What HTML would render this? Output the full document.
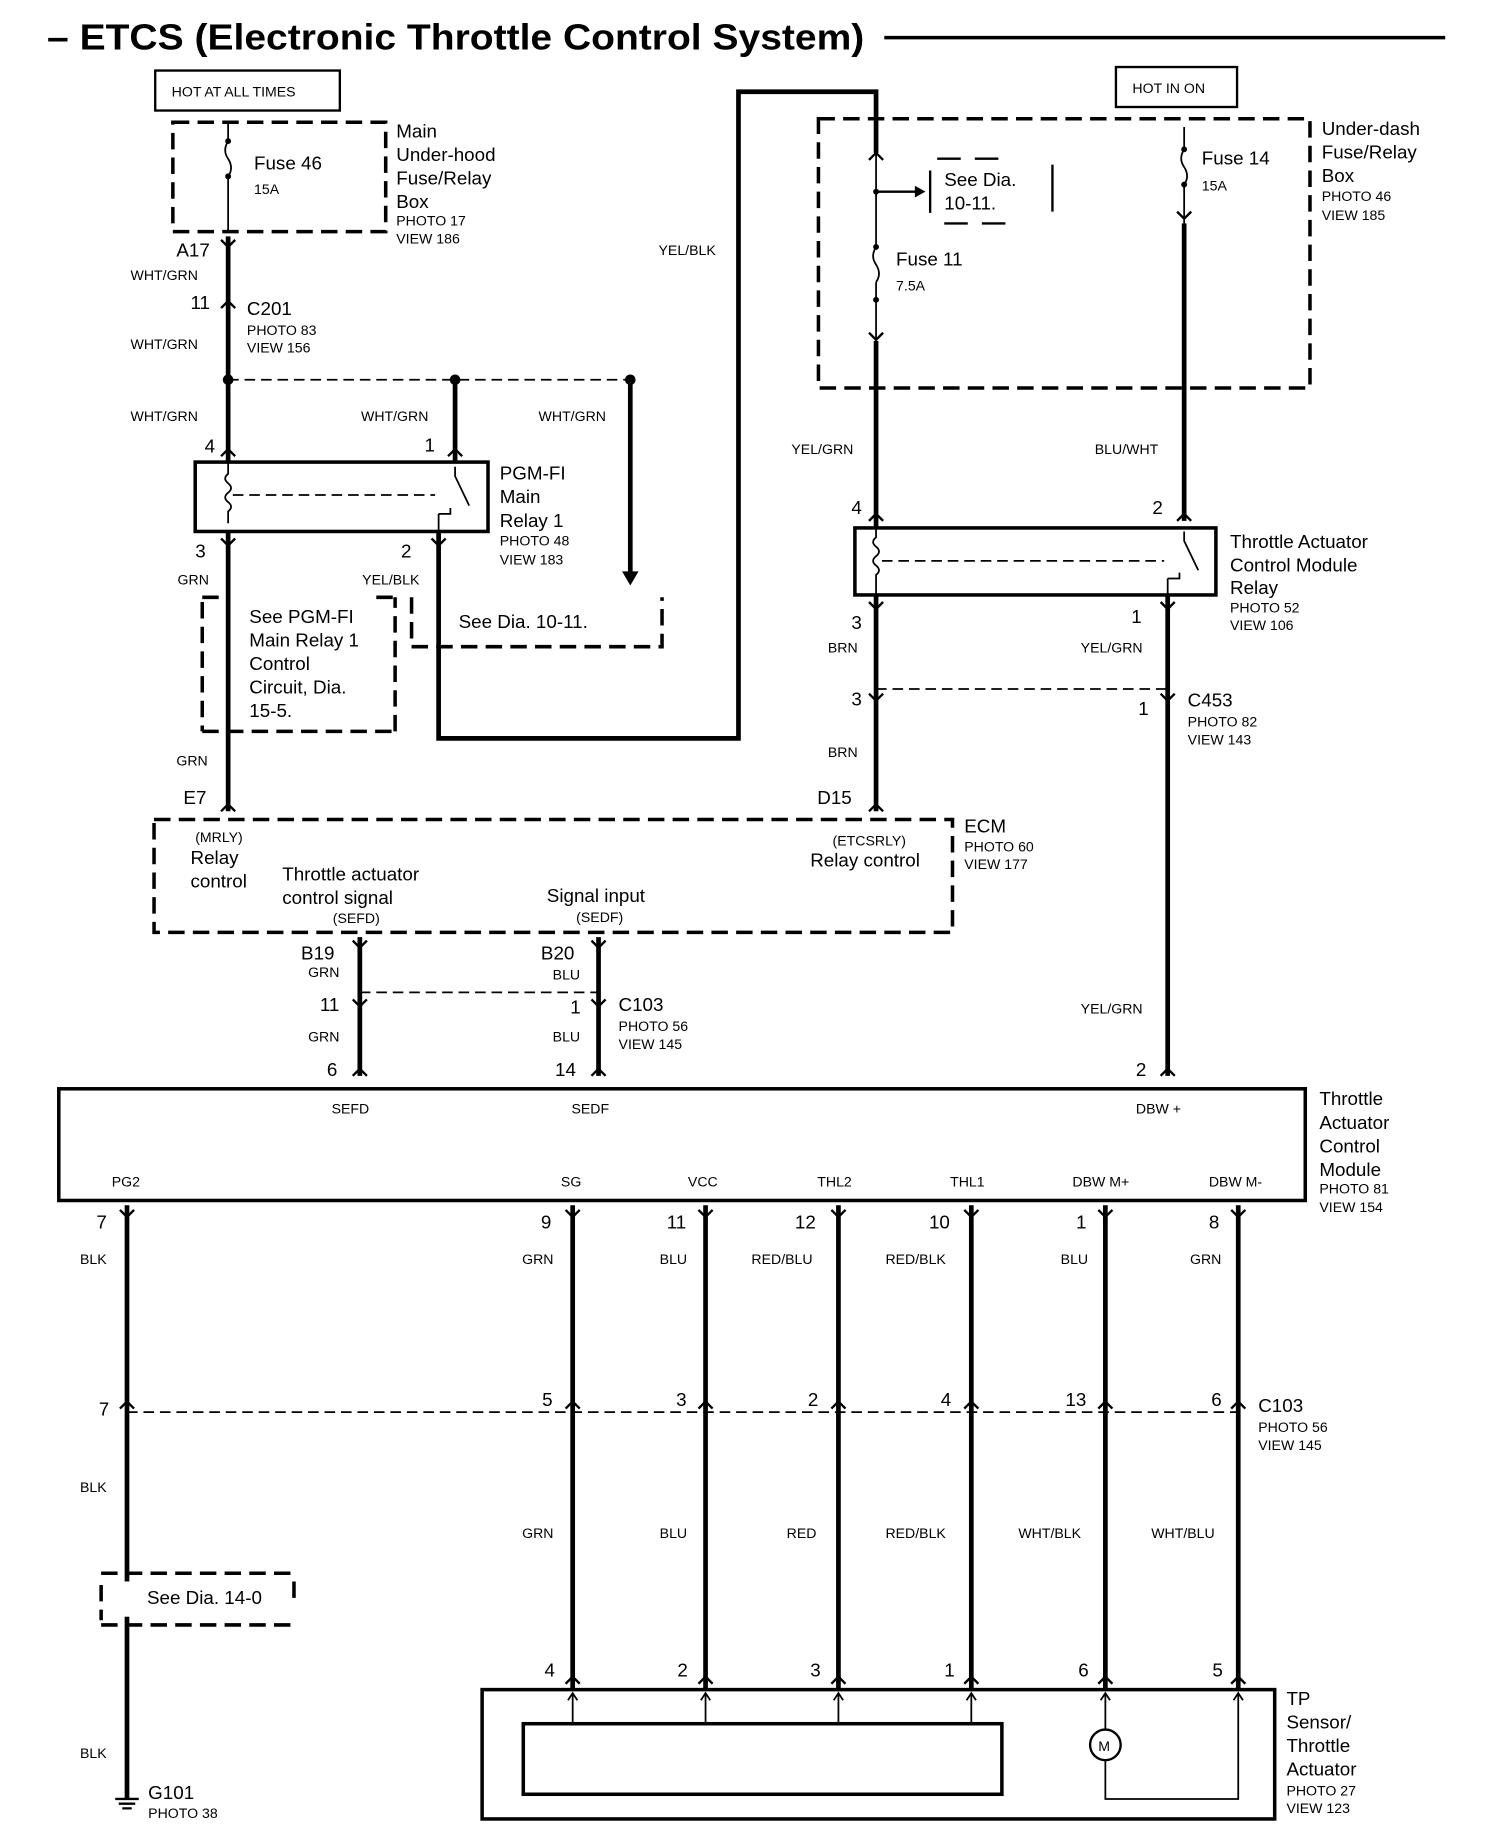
<!DOCTYPE html>
<html><head><meta charset="utf-8"><style>
html,body{margin:0;padding:0;background:#fff}
svg{display:block}
text{font-family:"Liberation Sans",sans-serif;fill:#000}
.b{font-size:16px}.s{font-size:12px}.t{font-size:31px;font-weight:bold}
.w{stroke:#000;stroke-width:4;fill:none}
.n{stroke:#000;stroke-width:1.5;fill:none}
.d{stroke:#000;stroke-width:3;fill:none;stroke-dasharray:14 7}
.dl{stroke:#000;stroke-width:1.5;fill:none;stroke-dasharray:9 5}
.bx{stroke:#000;stroke-width:3;fill:none}
.c{stroke:#000;stroke-width:2;fill:none}
</style></head><body>
<svg width="1504" height="1846" viewBox="0 0 1279 1570" preserveAspectRatio="none" xmlns="http://www.w3.org/2000/svg">
<text x="40" y="42" class="t" textLength="695" lengthAdjust="spacingAndGlyphs">– ETCS (Electronic Throttle Control System)</text>
<line x1="752" y1="32" x2="1229" y2="32" stroke="#000" stroke-width="3"/>

<!-- left top -->
<rect x="132" y="60" width="157" height="34" class="c"/>
<text x="146" y="82" class="s">HOT AT ALL TIMES</text>
<rect x="147" y="104" width="181" height="93" class="d"/>
<line x1="194" y1="104" x2="194" y2="120" class="n"/>
<path d="M194 120 q-5 8 0 15 q5 8 0 15" class="n"/>
<line x1="194" y1="150" x2="194" y2="197" class="n"/>
<circle cx="194" cy="120" r="2.5"/><circle cx="194" cy="150" r="2.5"/>
<text x="216" y="144" class="b">Fuse 46</text><text x="216" y="165" class="s">15A</text>
<text x="337" y="117" class="b">Main</text><text x="337" y="137" class="b">Under-hood</text>
<text x="337" y="157" class="b">Fuse/Relay</text><text x="337" y="177" class="b">Box</text>
<text x="337" y="192" class="s">PHOTO 17</text><text x="337" y="207" class="s">VIEW 186</text>

<line x1="194" y1="201" x2="194" y2="393" class="w"/>
<path d="M188 204 l6 6 l6 -6 M188 262 l6 -6 l6 6" class="c"/>
<text x="150" y="218" class="b">A17</text><text x="111" y="238" class="s">WHT/GRN</text>
<text x="162" y="263" class="b">11</text>
<text x="210" y="268" class="b">C201</text><text x="210" y="285" class="s">PHOTO 83</text><text x="210" y="300" class="s">VIEW 156</text>
<text x="111" y="297" class="s">WHT/GRN</text>
<line x1="194" y1="323" x2="536" y2="323" class="dl"/>
<circle cx="194" cy="323" r="4.5"/><circle cx="387" cy="323" r="4.5"/><circle cx="536" cy="323" r="4.5"/>
<text x="111" y="358" class="s">WHT/GRN</text><text x="307" y="358" class="s">WHT/GRN</text><text x="458" y="358" class="s">WHT/GRN</text>
<line x1="387" y1="323" x2="387" y2="393" class="w"/>
<line x1="536" y1="323" x2="536" y2="488" class="w"/>
<path d="M529 486 l7 12 l7 -12z"/>
<text x="174" y="385" class="b">4</text><text x="361" y="384" class="b">1</text>
<path d="M188 388 l6 -6 l6 6 M381 388 l6 -6 l6 6" class="c"/>
<rect x="166" y="393" width="249" height="59" class="bx"/>
<path d="M194 393 v10 q-5 4 0 8 q5 4 0 8 q-5 4 0 8 q5 4 0 8 v10" class="n"/>
<line x1="198" y1="421" x2="370" y2="421" class="dl"/>
<path d="M387 397 v8 l12 25 M373 437 h10 v-5" class="n"/>
<path d="M373 437 v15" class="n"/>
<text x="425" y="408" class="b">PGM-FI</text><text x="425" y="428" class="b">Main</text><text x="425" y="448" class="b">Relay 1</text>
<text x="425" y="464" class="s">PHOTO 48</text><text x="425" y="480" class="s">VIEW 183</text>
<text x="166" y="474" class="b">3</text><text x="341" y="474" class="b">2</text>
<path d="M188 458 l6 6 l6 -6 M367 458 l6 6 l6 -6" class="c"/>
<text x="151" y="497" class="s">GRN</text><text x="308" y="497" class="s">YEL/BLK</text>
<line x1="194" y1="452" x2="194" y2="690" class="w"/>
<path d="M172 512 v110 M172 622 h164 M336 622 v-114 M172 508 h20 M320 508 h16" class="d"/>
<text x="212" y="530" class="b">See PGM-FI</text><text x="212" y="550" class="b">Main Relay 1</text>
<text x="212" y="570" class="b">Control</text><text x="212" y="590" class="b">Circuit, Dia.</text><text x="212" y="610" class="b">15-5.</text>
<path d="M350 550 h213 v-42 M350 508 v42" class="d"/>
<text x="390" y="534" class="b">See Dia. 10-11.</text>
<path d="M373 452 V628 H628 V78 H745 V130" class="w"/>
<text x="560" y="217" class="s">YEL/BLK</text>
<text x="150" y="651" class="s">GRN</text><text x="156" y="684" class="b">E7</text>
<path d="M188 690 l6 -6 l6 6" class="c"/>

<!-- right top -->
<rect x="949" y="57" width="103" height="34" class="c"/>
<text x="963" y="79" class="s">HOT IN ON</text>
<rect x="696" y="101" width="418" height="229" class="d"/>
<text x="1124" y="115" class="b">Under-dash</text><text x="1124" y="135" class="b">Fuse/Relay</text><text x="1124" y="155" class="b">Box</text>
<text x="1124" y="171" class="s">PHOTO 46</text><text x="1124" y="187" class="s">VIEW 185</text>
<line x1="1007" y1="108" x2="1007" y2="127" class="n"/>
<path d="M1007 127 q-5 8 0 15 q5 8 0 15" class="n"/>
<circle cx="1007" cy="127" r="2.5"/><circle cx="1007" cy="157" r="2.5"/>
<line x1="1007" y1="157" x2="1007" y2="190" class="n"/>
<path d="M1001 180 l6 6 l6 -6" class="c"/>
<line x1="1007" y1="190" x2="1007" y2="443" class="w"/>
<text x="1022" y="140" class="b">Fuse 14</text><text x="1022" y="162" class="s">15A</text>
<path d="M739 136 l6 -6 l6 6" class="c"/>
<line x1="745" y1="130" x2="745" y2="210" class="n"/>
<circle cx="745" cy="163" r="2.5"/>
<line x1="745" y1="163" x2="780" y2="163" class="c"/><path d="M778 158 l9 5 l-9 5z"/>
<path d="M791 145 v36 M895 140 v40 M797 135 h20 M829 135 h20 M803 190 h20 M835 190 h20" class="c"/>
<text x="803" y="158" class="b">See Dia.</text><text x="803" y="178" class="b">10-11.</text>
<path d="M745 210 q-5 8 0 15 q5 8 0 15" class="n"/>
<circle cx="745" cy="210" r="2.5"/><circle cx="745" cy="255" r="2.5"/>
<line x1="745" y1="240" x2="745" y2="290" class="n"/>
<path d="M739 283 l6 6 l6 -6" class="c"/>
<text x="762" y="226" class="b">Fuse 11</text><text x="762" y="247" class="s">7.5A</text>
<line x1="745" y1="290" x2="745" y2="449" class="w"/>
<text x="673" y="386" class="s">YEL/GRN</text><text x="931" y="386" class="s">BLU/WHT</text>
<text x="724" y="437" class="b">4</text><text x="980" y="437" class="b">2</text>
<path d="M739 443 l6 -6 l6 6 M1001 443 l6 -6 l6 6" class="c"/>
<rect x="727" y="449" width="307" height="57" class="bx"/>
<path d="M745 449 v8 q-5 4 0 8 q5 4 0 8 q-5 4 0 8 q5 4 0 8 v17" class="n"/>
<line x1="750" y1="477" x2="990" y2="477" class="dl"/>
<path d="M1007 452 v8 l12 25 M993 492 h10 v-5" class="n"/>
<path d="M993 492 v14" class="n"/>
<text x="1046" y="466" class="b">Throttle Actuator</text><text x="1046" y="486" class="b">Control Module</text><text x="1046" y="505" class="b">Relay</text>
<text x="1046" y="521" class="s">PHOTO 52</text><text x="1046" y="536" class="s">VIEW 106</text>
<text x="724" y="535" class="b">3</text><text x="962" y="530" class="b">1</text>
<path d="M739 512 l6 6 l6 -6 M987 512 l6 6 l6 -6" class="c"/>
<text x="704" y="555" class="s">BRN</text><text x="919" y="555" class="s">YEL/GRN</text>
<line x1="745" y1="506" x2="745" y2="690" class="w"/>
<line x1="745" y1="586" x2="993" y2="586" class="dl"/>
<path d="M739 590 l6 6 l6 -6 M987 590 l6 6 l6 -6" class="c"/>
<text x="724" y="600" class="b">3</text><text x="704" y="644" class="s">BRN</text><text x="695" y="684" class="b">D15</text>
<path d="M739 690 l6 -6 l6 6" class="c"/>
<line x1="993" y1="506" x2="993" y2="915" class="w"/>
<text x="968" y="608" class="b">1</text>
<text x="1010" y="601" class="b">C453</text><text x="1010" y="618" class="s">PHOTO 82</text><text x="1010" y="633" class="s">VIEW 143</text>
<text x="919" y="862" class="s">YEL/GRN</text><text x="966" y="915" class="b">2</text>
<path d="M987 915 l6 -6 l6 6" class="c"/>

<!-- ECM -->
<rect x="131" y="697" width="679" height="96" class="d"/>
<text x="820" y="708" class="b">ECM</text><text x="820" y="724" class="s">PHOTO 60</text><text x="820" y="739" class="s">VIEW 177</text>
<text x="166" y="716" class="s">(MRLY)</text><text x="162" y="735" class="b">Relay</text><text x="162" y="755" class="b">control</text>
<text x="240" y="749" class="b">Throttle actuator</text><text x="240" y="769" class="b">control signal</text><text x="283" y="785" class="s">(SEFD)</text>
<text x="465" y="767" class="b">Signal input</text><text x="490" y="784" class="s">(SEDF)</text>
<text x="708" y="719" class="s">(ETCSRLY)</text><text x="689" y="737" class="b">Relay control</text>
<text x="256" y="816" class="b">B19</text><text x="262" y="831" class="s">GRN</text>
<text x="460" y="816" class="b">B20</text><text x="470" y="833" class="s">BLU</text>
<line x1="306" y1="797" x2="306" y2="915" class="w"/><line x1="509" y1="797" x2="509" y2="915" class="w"/>
<path d="M300 800 l6 6 l6 -6 M503 800 l6 6 l6 -6 M300 850 l6 6 l6 -6 M503 850 l6 6 l6 -6 M300 915 l6 -6 l6 6 M503 915 l6 -6 l6 6" class="c"/>
<line x1="306" y1="844" x2="509" y2="844" class="dl"/>
<text x="272" y="860" class="b">11</text><text x="485" y="862" class="b">1</text>
<text x="526" y="860" class="b">C103</text><text x="526" y="877" class="s">PHOTO 56</text><text x="526" y="892" class="s">VIEW 145</text>
<text x="262" y="886" class="s">GRN</text><text x="470" y="886" class="s">BLU</text>
<text x="278" y="915" class="b">6</text><text x="472" y="915" class="b">14</text>

<!-- TACM -->
<rect x="50" y="926" width="1060" height="95" class="bx"/>
<text x="282" y="947" class="s">SEFD</text><text x="486" y="947" class="s">SEDF</text><text x="966" y="947" class="s">DBW +</text>
<text x="95" y="1009" class="s">PG2</text><text x="477" y="1009" class="s">SG</text><text x="585" y="1009" class="s">VCC</text>
<text x="695" y="1009" class="s">THL2</text><text x="808" y="1009" class="s">THL1</text><text x="912" y="1009" class="s">DBW M+</text><text x="1028" y="1009" class="s">DBW M-</text>
<text x="1122" y="940" class="b">Throttle</text><text x="1122" y="960" class="b">Actuator</text><text x="1122" y="980" class="b">Control</text><text x="1122" y="1000" class="b">Module</text>
<text x="1122" y="1015" class="s">PHOTO 81</text><text x="1122" y="1031" class="s">VIEW 154</text>

<line x1="108" y1="1025" x2="108" y2="1530" class="w"/>
<g class="w">
<line x1="487" y1="1025" x2="487" y2="1437"/><line x1="600" y1="1025" x2="600" y2="1437"/>
<line x1="713" y1="1025" x2="713" y2="1437"/><line x1="826" y1="1025" x2="826" y2="1437"/>
<line x1="940" y1="1025" x2="940" y2="1437"/><line x1="1053" y1="1025" x2="1053" y2="1437"/>
</g>
<path d="M102 1029 l6 6 l6 -6 M481 1029 l6 6 l6 -6 M594 1029 l6 6 l6 -6 M707 1029 l6 6 l6 -6 M820 1029 l6 6 l6 -6 M934 1029 l6 6 l6 -6 M1047 1029 l6 6 l6 -6" class="c"/>
<path d="M102 1198 l6 -6 l6 6 M481 1198 l6 -6 l6 6 M594 1198 l6 -6 l6 6 M707 1198 l6 -6 l6 6 M820 1198 l6 -6 l6 6 M934 1198 l6 -6 l6 6 M1047 1198 l6 -6 l6 6" class="c"/>
<path d="M481 1432 l6 -6 l6 6 M594 1432 l6 -6 l6 6 M707 1432 l6 -6 l6 6 M820 1432 l6 -6 l6 6 M934 1432 l6 -6 l6 6 M1047 1432 l6 -6 l6 6" class="c"/>
<text x="82" y="1045" class="b">7</text><text x="460" y="1045" class="b">9</text><text x="567" y="1045" class="b">11</text>
<text x="676" y="1045" class="b">12</text><text x="790" y="1045" class="b">10</text><text x="915" y="1045" class="b">1</text><text x="1028" y="1045" class="b">8</text>
<text x="68" y="1075" class="s">BLK</text><text x="444" y="1075" class="s">GRN</text><text x="561" y="1075" class="s">BLU</text>
<text x="639" y="1075" class="s">RED/BLU</text><text x="753" y="1075" class="s">RED/BLK</text><text x="902" y="1075" class="s">BLU</text><text x="1012" y="1075" class="s">GRN</text>
<line x1="108" y1="1201" x2="1053" y2="1201" class="dl"/>
<text x="84" y="1204" class="b">7</text><text x="461" y="1196" class="b">5</text><text x="575" y="1196" class="b">3</text>
<text x="687" y="1196" class="b">2</text><text x="800" y="1196" class="b">4</text><text x="906" y="1196" class="b">13</text><text x="1030" y="1196" class="b">6</text>
<text x="1070" y="1201" class="b">C103</text><text x="1070" y="1218" class="s">PHOTO 56</text><text x="1070" y="1233" class="s">VIEW 145</text>
<text x="68" y="1269" class="s">BLK</text>
<text x="444" y="1308" class="s">GRN</text><text x="561" y="1308" class="s">BLU</text><text x="669" y="1308" class="s">RED</text>
<text x="753" y="1308" class="s">RED/BLK</text><text x="866" y="1308" class="s">WHT/BLK</text><text x="979" y="1308" class="s">WHT/BLU</text>
<path d="M86 1338 h164 M86 1382 h164 M250 1345 v20 M86 1348 v30" class="d"/>
<rect x="100" y="1345" width="16" height="30" fill="#fff"/>
<text x="125" y="1364" class="b">See Dia. 14-0</text>
<text x="68" y="1495" class="s">BLK</text>
<path d="M98 1530 h20 M101 1534 h14 M104 1538 h8" class="c"/>
<text x="126" y="1530" class="b">G101</text><text x="126" y="1546" class="s">PHOTO 38</text>

<text x="463" y="1426" class="b">4</text><text x="576" y="1426" class="b">2</text><text x="689" y="1426" class="b">3</text>
<text x="803" y="1426" class="b">1</text><text x="917" y="1426" class="b">6</text><text x="1031" y="1426" class="b">5</text>
<rect x="410" y="1437" width="674" height="110" class="bx"/>
<rect x="445" y="1466" width="407" height="60" class="bx"/>
<g class="n"><line x1="487" y1="1440" x2="487" y2="1466"/><line x1="600" y1="1440" x2="600" y2="1466"/>
<line x1="713" y1="1440" x2="713" y2="1466"/><line x1="826" y1="1440" x2="826" y2="1466"/>
<line x1="940" y1="1440" x2="940" y2="1471"/><path d="M940 1497 V1530 H1053 V1440"/></g>
<path d="M483 1446 l4 -6 l4 6 M596 1446 l4 -6 l4 6 M709 1446 l4 -6 l4 6 M822 1446 l4 -6 l4 6 M936 1446 l4 -6 l4 6 M1049 1446 l4 -6 l4 6" class="n"/>
<circle cx="940" cy="1484" r="13" class="c"/>
<text x="934" y="1489" class="s">M</text>
<text x="1094" y="1450" class="b">TP</text><text x="1094" y="1470" class="b">Sensor/</text><text x="1094" y="1490" class="b">Throttle</text><text x="1094" y="1510" class="b">Actuator</text>
<text x="1094" y="1527" class="s">PHOTO 27</text><text x="1094" y="1542" class="s">VIEW 123</text>
</svg>
</body></html>
